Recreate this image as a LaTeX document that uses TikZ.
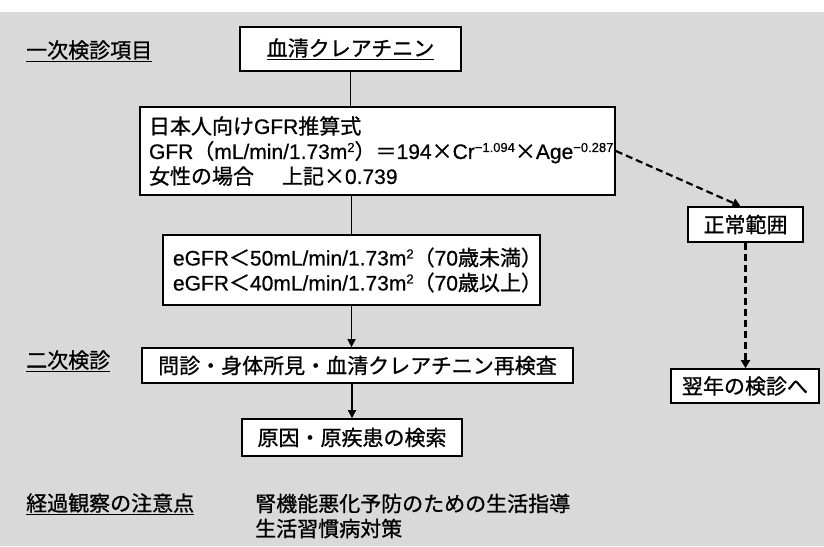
\documentclass[tikz,border=0pt]{standalone}
\usepackage{fontspec}
\setmainfont{Noto Sans CJK JP}[FakeBold=0.9]
\newfontfamily\lat{Liberation Sans}[FakeBold=0.6]
\usetikzlibrary{arrows.meta}
\newcommand\sups[1]{\raisebox{7pt}{\fontsize{13}{13}\selectfont\lat #1}}
\tikzset{
  box/.style={draw, line width=1.7pt, fill=white, inner sep=0pt},
  lbl/.style={anchor=west, inner sep=0pt},
  conn/.style={line width=1.7pt},
  arr/.style={conn, -{Triangle[width=8pt,length=8pt]}},
  dashconn/.style={line width=2.2pt, dash pattern=on 7pt off 4pt, -{Triangle[width=9pt,length=8pt]}},
}
\begin{document}
\begin{tikzpicture}[x=1pt, y=-1pt, font=\fontsize{21}{25}\selectfont]
\useasboundingbox (0,0) rectangle (824,546);
\fill[black!15] (0,12) rectangle (824,546);

% labels
\node[lbl] (l1) at (26,51) {\underline{一次検診項目}};
\node[lbl] (l2) at (26,361) {\underline{二次検診}};
\node[lbl] (l3) at (26,504) {\underline{経過観察の注意点}};
\node[lbl, align=left] (l4) at (255,516) {腎機能悪化予防のための生活指導\\生活習慣病対策};

% boxes
\node[box, minimum width=221pt, minimum height=44pt] (a) at (350.5,49) {\underline{血清クレアチニン}};
\node[box, minimum width=475pt, minimum height=88pt, text width=457pt, align=left] (b) at (377.5,151)
  {日本人向け{\lat GFR}推算式\\
   {\lat GFR}（{\lat mL/min/1.73m}\sups{2}）＝{\lat 194}×{\lat Cr}\sups{−1.094}×{\lat Age}\sups{−0.287}\\
   女性の場合\hspace{28pt}上記×{\lat 0.739}};
\node[box, minimum width=377pt, minimum height=70pt, text width=357pt, align=left] (c) at (351.5,270)
  {{\lat eGFR}＜{\lat 50mL/min/1.73m}\sups{2}（{\lat 70}歳未満）\\
   {\lat eGFR}＜{\lat 40mL/min/1.73m}\sups{2}（{\lat 70}歳以上）};
\node[box, minimum width=431pt, minimum height=35pt] (d) at (357.5,365.5) {問診・身体所見・血清クレアチニン再検査};
\node[box, minimum width=220pt, minimum height=37pt] (e) at (352,437.5) {原因・原疾患の検索};
\node[box, minimum width=115pt, minimum height=35pt] (n1) at (745.5,224.5) {正常範囲};
\node[box, minimum width=148pt, minimum height=34pt] (n2) at (745,386) {翌年の検診へ};

% connectors
\draw[conn] (a.south) -- (a.south |- b.north);
\draw[conn] (c.north |- b.south) -- (c.north);
\draw[arr] (c.south) -- (c.south |- d.north);
\draw[arr] (e.north |- d.south) -- (e.north);
\draw[dashconn] (b.east) -- ([xshift=-5pt]n1.north);
\draw[dashconn] (n1.south) -- (n1.south |- n2.north);
\end{tikzpicture}
\end{document}
